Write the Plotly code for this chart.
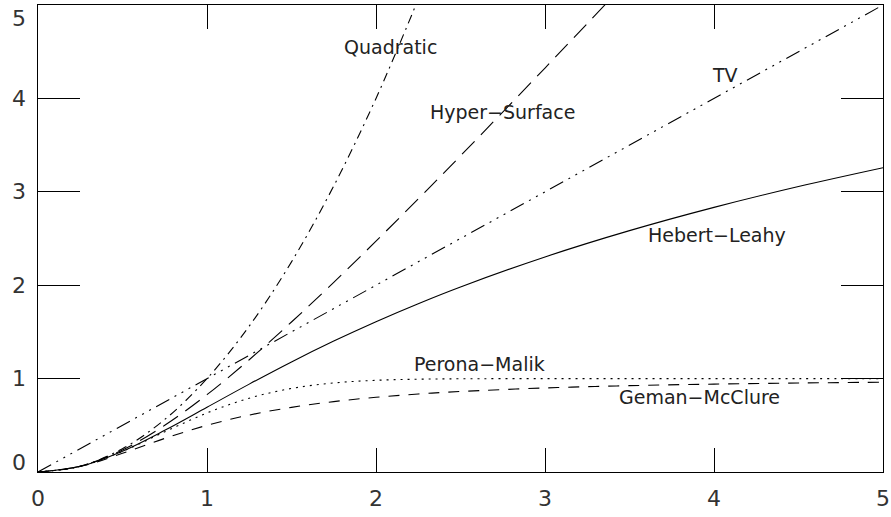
import plotly.graph_objects as go

x_grid = [0, 0.25, 0.5, 0.75, 1.0, 1.25, 1.5, 1.75, 2.0, 2.25, 2.5, 3.0, 3.5, 4.0, 4.5, 5.0]

quad_x = [0, 0.25, 0.5, 0.75, 1.0, 1.25, 1.5, 1.75, 2.0, 2.25]
quad_y = [0, 0.0625, 0.25, 0.5625, 1.0, 1.5625, 2.25, 3.0625, 4.0, 5.0625]

hyper_x = [0, 0.25, 0.5, 0.75, 1.0, 1.25, 1.5, 1.75, 2.0, 2.25, 2.5, 3.0, 3.5]
hyper_y = [0, 0.062, 0.236, 0.5, 0.828, 1.202, 1.606, 2.031, 2.472, 2.924, 3.385, 4.325, 5.28]

tv_x = [0, 1.0, 2.0, 3.0, 4.0, 5.0]
tv_y = [0, 1.0, 2.0, 3.0, 4.0, 5.0]

hebert_y = [0, 0.0606, 0.2231, 0.4463, 0.6931, 0.941, 1.1787, 1.4018, 1.6094, 1.8021,
            1.981, 2.3026, 2.584, 2.8332, 3.0564, 3.2581]
perona_y = [0, 0.0606, 0.2212, 0.4302, 0.6321, 0.7904, 0.8946, 0.9532, 0.9817, 0.9937,
            0.9981, 0.9999, 1.0, 1.0, 1.0, 1.0]
geman_y = [0, 0.0588, 0.2, 0.36, 0.5, 0.6098, 0.6923, 0.7538, 0.8, 0.8351,
           0.8621, 0.9, 0.9245, 0.9412, 0.9529, 0.9615]

labels = ["Quadratic", "Hyper\u2212Surface", "TV", "Hebert\u2212Leahy", "Perona\u2212Malik", "Geman\u2212McClure"]
label_x = [2.083, 2.746, 4.065, 4.018, 2.61, 3.917]
label_y = [4.55, 3.854, 4.25, 2.537, 1.156, 0.80]

tick_vals = [0, 1, 2, 3, 4, 5]
tick_text = ["0", "1", "2", "3", "4", "5"]

TICK_FONT = dict(family="DejaVu Sans", size=22, color="#333")

fig = go.Figure()
lw = 1.1
fig.add_trace(go.Scatter(x=quad_x, y=quad_y, mode="lines", line=dict(color="black", width=lw, dash="9px,5px,2px,5px", shape="spline")))
fig.add_trace(go.Scatter(x=hyper_x, y=hyper_y, mode="lines", line=dict(color="black", width=lw, dash="18px,9px", shape="spline")))
fig.add_trace(go.Scatter(x=tv_x, y=tv_y, mode="lines", line=dict(color="black", width=lw, dash="15px,6px,2px,6px,2px,6px,2px,6px")))
fig.add_trace(go.Scatter(x=x_grid, y=hebert_y, mode="lines", line=dict(color="black", width=lw, shape="spline")))
fig.add_trace(go.Scatter(x=x_grid, y=perona_y, mode="lines", line=dict(color="black", width=lw, dash="2px,5px", shape="spline")))
fig.add_trace(go.Scatter(x=x_grid, y=geman_y, mode="lines", line=dict(color="black", width=lw, dash="11px,9px", shape="spline")))

for t, lx, ly in zip(labels, label_x, label_y):
    fig.add_annotation(x=lx, y=ly, text=t, showarrow=False, xanchor="center", yanchor="middle",
                       font=dict(family="DejaVu Sans", size=19, color="#222"))

# y tick labels: end labels kept inside the frame height (top-aligned at 5, bottom-aligned at 0)
for v, t in zip(tick_vals, tick_text):
    anchor = "top" if v == tick_vals[-1] else ("bottom" if v == tick_vals[0] else "middle")
    shift = -4 if v == tick_vals[0] else 0
    fig.add_annotation(xref="paper", x=0, yref="y", y=v, text=t, showarrow=False,
                       xanchor="right", yanchor=anchor, xshift=-11, yshift=shift, borderpad=0,
                       font=TICK_FONT)

axis_common = dict(range=[0, 5], showgrid=False, zeroline=False, showline=True, linecolor="black",
                   linewidth=1, mirror="ticks", ticks="inside", tickcolor="black", tickwidth=1,
                   tickvals=tick_vals, ticktext=tick_text, automargin=False,
                   tickfont=TICK_FONT)

fig.update_layout(
    width=891, height=517,
    margin=dict(l=38, r=8, t=5, b=45),
    paper_bgcolor="white", plot_bgcolor="white",
    showlegend=False,
    xaxis=dict(**axis_common, ticklen=24, ticklabelstandoff=7),
    yaxis=dict(**axis_common, ticklen=42, showticklabels=False),
)

fig.write_html("out.html", config={"displayModeBar": False},
               post_script="document.body.style.margin='0';document.body.style.overflow='hidden';")
